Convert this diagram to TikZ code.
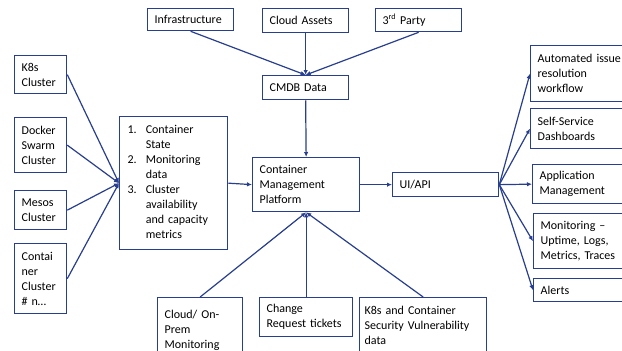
\documentclass[tikz,border=0pt]{standalone}
\usepackage{fontspec}
\setmainfont{Carlito}
\usetikzlibrary{arrows.meta}
\definecolor{linkblue}{RGB}{40,62,142}

\begin{document}
\begin{tikzpicture}[x=1pt,y=-1pt,>={Latex[length=5pt,width=4.5pt]},
        box/.style={draw=linkblue, line width=1.3pt, anchor=north west, align=left,
            inner xsep=7pt, inner ysep=3pt, text=black,
            font=\fontsize{12}{15}\selectfont},
        link/.style={draw=linkblue, line width=1.2pt, ->}]
        \useasboundingbox (0,0) rectangle (622,351);
        \clip (0,0) rectangle (622,351);

        % data sources feeding the CMDB
        \node[box, text width=72pt, minimum height=22pt] (infra) at (147,8) {Infrastructure};
        \node[box, text width=72pt, minimum height=24pt] (cloud) at (262,8) {Cloud Assets};
        \node[box, text width=72pt, minimum height=23pt] (third) at (375,8) {3\textsuperscript{rd} Party};
        \node[box, text width=72pt, minimum height=24pt] (cmdb) at (262,75) {CMDB Data};

        % clusters
        \node[box, text width=38pt, minimum height=38pt] (k8s) at (14,55) {K8s\\Cluster};
        \node[box, text width=38pt, minimum height=55pt] (docker) at (14,117) {Docker\\Swarm\\Cluster};
        \node[box, text width=38pt, minimum height=39pt] (mesos) at (14,190) {Mesos\\Cluster};
        \node[box, text width=38pt, minimum height=70pt] (cont) at (14,243) {Contai\\ner\\Cluster\\\# n\dots};

        \node[box, text width=92pt, minimum height=133pt, inner xsep=8pt] (list) at (119,116) {%
            \begin{tabular}{@{}l@{\hspace{9pt}}l@{}}
                1. & Container\\
                   & State\\
                2. & Monitoring\\
                   & data\\
                3. & Cluster\\
                   & availability\\
                   & and capacity\\
                   & metrics
            \end{tabular}};

        \node[box, text width=93pt, minimum height=54pt] (platform) at (252,157) {Container\\Management\\Platform};
        \node[box, text width=92pt, minimum height=24pt] (ui) at (392,172) {UI/API};

        % consumers of the API
        \node[box, text width=100pt, minimum height=56pt] (auto) at (530,45) {Automated issue\\resolution\\workflow};
        \node[box, text width=100pt, minimum height=40pt] (self) at (530,108) {Self-Service\\Dashboards};
        \node[box, text width=100pt, minimum height=39pt] (app) at (532,164) {Application\\Management};
        \node[box, text width=100pt, minimum height=55pt] (mon) at (533,213) {Monitoring --\\Uptime, Logs,\\Metrics, Traces};
        \node[box, text width=100pt, minimum height=23pt] (alerts) at (533,278) {Alerts};

        % extra inputs below the platform
        \node[box, text width=71pt, minimum height=66pt] (cloudmon) at (157,297) {Cloud/ On-\\Prem\\Monitoring};
        \node[box, text width=79pt, minimum height=39pt] (change) at (259,297) {Change\\Request tickets};
        \node[box, text width=117pt, minimum height=56pt, inner xsep=5pt] (vuln) at (359,297) {K8s and Container\\Security Vulnerability\\data};

        \foreach \src in {k8s,docker,mesos,cont}
            \draw[link] (\src.east) -- (list.west);
        \foreach \src in {infra,cloud,third}
            \draw[link] (\src.south) -- (cmdb.north);
        \draw[link] (cmdb.south) -- (platform.north);
        \draw[link] (list.east) -- (platform.west);
        \draw[link] (platform.east) -- (ui.west);
        \foreach \dst in {auto,self,app,mon,alerts}
            \draw[link] (ui.east) -- (\dst.west);
        \foreach \src in {cloudmon,change,vuln}
            \draw[link] (\src.north) -- (platform.south);
    \end{tikzpicture}
\end{document}
